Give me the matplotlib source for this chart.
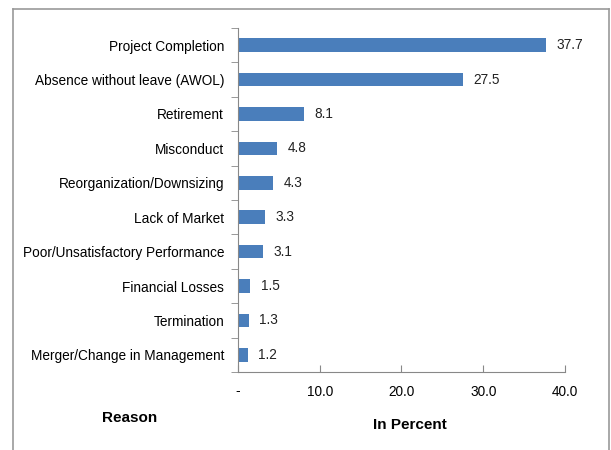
import matplotlib.pyplot as plt
from matplotlib.lines import Line2D

reasons = ['Project Completion', 'Absence without leave (AWOL)', 'Retirement',
           'Misconduct', 'Reorganization/Downsizing', 'Lack of Market',
           'Poor/Unsatisfactory Performance', 'Financial Losses', 'Termination',
           'Merger/Change in Management']
percent = [37.7, 27.5, 8.1, 4.8, 4.3, 3.3, 3.1, 1.5, 1.3, 1.2]
xticks = [0, 10, 20, 30, 40]
xtick_labels = ['-', '10.0', '20.0', '30.0', '40.0']

plt.rcParams['font.family'] = ['Liberation Sans', 'DejaVu Sans']

fig = plt.figure(figsize=(6.11, 4.5), dpi=100)
ax = fig.add_axes([0.3895, 0.1733, 0.5352, 0.7645])

y = list(range(len(reasons)))[::-1]
ax.barh(y, percent, height=0.4, color='#4a7ebb')
for yy, v in zip(y, percent):
    ax.text(v + 1.3, yy, '%.1f' % v, va='center', ha='left', fontsize=9.8, color='#222222')

ax.set_xlim(0, 40)
ax.set_ylim(-0.5, len(reasons) - 0.5)
ax.set_yticks(y)
ax.set_yticklabels(reasons, fontsize=9.8)
ax.set_yticks([i - 0.5 for i in range(len(reasons) + 1)], minor=True)
ax.tick_params(axis='y', which='major', length=0, pad=10)
ax.tick_params(axis='y', which='minor', length=5, direction='out', color='#888888')
ax.set_xticks(xticks)
ax.set_xticklabels(xtick_labels, fontsize=9.8)
ax.tick_params(axis='x', length=5, direction='in', color='#888888', pad=9)

for s in ['top', 'right']:
    ax.spines[s].set_visible(False)
ax.spines['left'].set_color('#888888')
ax.spines['bottom'].set_color('#888888')

fig.text(130 / 611, 1 - 418 / 450, 'Reason', ha='center', va='center', fontsize=11, fontweight='bold')
fig.text(410 / 611, 1 - 425 / 450, 'In Percent', ha='center', va='center', fontsize=11, fontweight='bold')

# outer frame
fr = '#999999'
fig.add_artist(Line2D([13 / 611, 13 / 611], [0, 1 - 9 / 450], color=fr, lw=1.2))
fig.add_artist(Line2D([13 / 611, 609 / 611], [1 - 9 / 450, 1 - 9 / 450], color=fr, lw=1.2))
fig.add_artist(Line2D([609 / 611, 609 / 611], [0, 1 - 9 / 450], color=fr, lw=1.2))

fig.savefig('out.png', dpi=100)
